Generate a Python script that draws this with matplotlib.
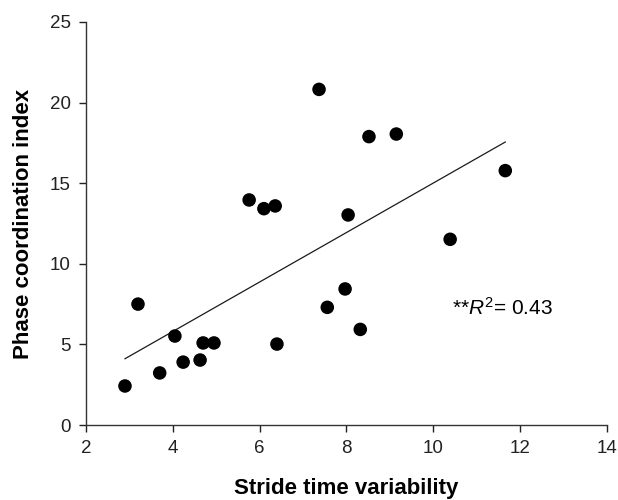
import matplotlib
matplotlib.use("Agg")
import matplotlib.pyplot as plt
import numpy as np

plt.rcParams['font.family'] = ['Liberation Sans', 'DejaVu Sans']
plt.rcParams['mathtext.fontset'] = 'custom'
plt.rcParams['mathtext.it'] = 'Liberation Sans:italic'
plt.rcParams['mathtext.rm'] = 'Liberation Sans'

stride_var = [2.90, 3.20, 3.70, 4.05, 4.24, 4.63, 4.70, 4.95, 6.40, 5.76, 6.10,
              6.36, 7.37, 8.52, 9.15, 11.66, 8.04, 10.39, 7.56, 7.97, 8.32]
phase_idx = [2.42, 7.50, 3.23, 5.52, 3.90, 4.03, 5.09, 5.09, 5.02, 13.96, 13.42,
             13.59, 20.82, 17.89, 18.05, 15.78, 13.03, 11.52, 7.30, 8.44, 5.93]
x_ticks = [2, 4, 6, 8, 10, 12, 14]
y_ticks = [0, 5, 10, 15, 20, 25]
r2_text = "**$R^2$= 0.43"

fig = plt.figure(figsize=(6.18, 5.0), dpi=100)
ax = fig.add_axes([0.139, 0.15, 0.843, 0.806])

x = np.array(stride_var)
y = np.array(phase_idx)
slope, intercept = np.polyfit(x, y, 1)
xf = np.array([x.min(), x.max()])
ax.plot(xf, slope * xf + intercept, color='#1a1a1a', lw=0.9, zorder=2)
ax.scatter(x, y, s=95, color='black', edgecolors='none', zorder=3)

ax.set_xlim(2, 14)
ax.set_ylim(0, 25)
ax.set_xticks(x_ticks)
ax.set_yticks(y_ticks)
ax.tick_params(direction='out', length=5, width=1, labelsize=13.5, colors='#222222', pad=6)
ax.spines['top'].set_visible(False)
ax.spines['right'].set_visible(False)
for s in ['left', 'bottom']:
    ax.spines[s].set_color('#333333')
    ax.spines[s].set_linewidth(1)

ax.set_xlabel('Stride time variability', fontsize=16, fontweight='bold', labelpad=15)
ax.set_ylabel('Phase coordination index', fontsize=16, fontweight='bold', labelpad=11)

ax.text(10.43, 7.25, r2_text, fontsize=15, va='center', ha='left')

fig.savefig('out.png', dpi=100)
